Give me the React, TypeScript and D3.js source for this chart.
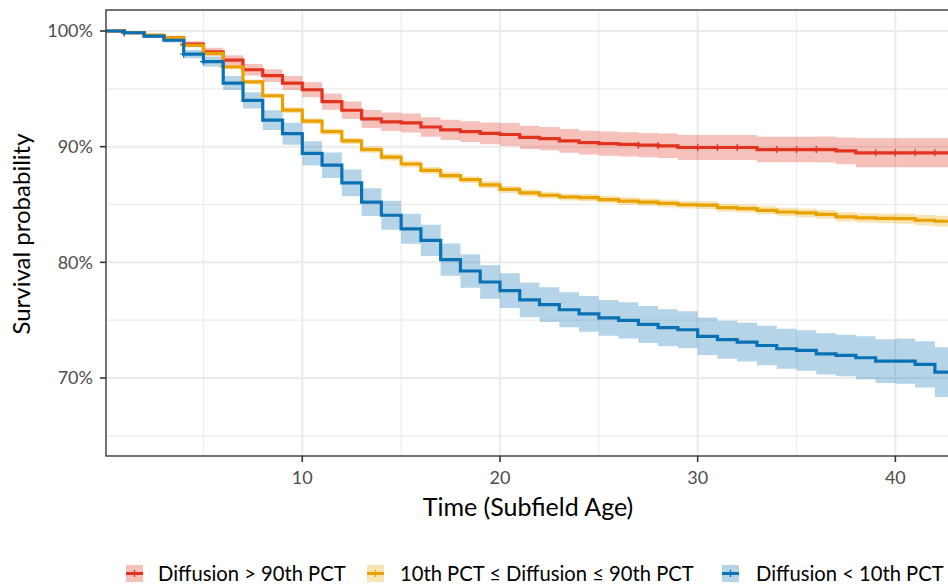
import React from "react";
import * as d3 from "d3";

// ---------- data ----------
const years = d3.range(0, 43); // step start times 0..42
const seriesNames = ["Diffusion > 90th PCT", "10th PCT ≤ Diffusion ≤ 90th PCT", "Diffusion < 10th PCT"];
const seriesColors = ["#E1331F", "#E9A100", "#0A72B4"];

const survHigh = [100, 99.85, 99.6, 99.4, 98.87, 98.2, 97.49, 96.65, 96.15, 95.5, 94.92, 93.9, 93.15, 92.4, 92.15, 92.05, 91.7, 91.45, 91.3, 91.15, 91.05, 90.8, 90.7, 90.5, 90.35, 90.27, 90.2, 90.13, 90.07, 89.93, 89.93, 89.93, 89.93, 89.75, 89.75, 89.75, 89.75, 89.64, 89.47, 89.47, 89.47, 89.47, 89.47];
const survMid = [100, 99.85, 99.65, 99.4, 98.75, 98.06, 96.9, 95.6, 94.4, 93.16, 92.2, 91.3, 90.5, 89.75, 89.1, 88.5, 87.95, 87.5, 87.15, 86.7, 86.3, 86.0, 85.8, 85.65, 85.6, 85.43, 85.3, 85.2, 85.1, 84.98, 84.95, 84.73, 84.65, 84.5, 84.35, 84.27, 84.15, 83.93, 83.84, 83.8, 83.78, 83.64, 83.55];
const survLow = [100, 99.85, 99.55, 99.2, 98.0, 97.35, 95.5, 94.0, 92.3, 91.12, 89.42, 88.4, 86.87, 85.2, 84.07, 82.9, 81.9, 80.23, 79.25, 78.3, 77.55, 76.75, 76.35, 75.9, 75.55, 75.2, 74.98, 74.63, 74.35, 74.17, 73.6, 73.31, 73.1, 72.81, 72.53, 72.38, 72.09, 71.95, 71.75, 71.46, 71.46, 71.17, 70.5];

const ciHigh = [0.05, 0.1, 0.15, 0.2, 0.25, 0.35, 0.42, 0.5, 0.55, 0.6, 0.65, 0.7, 0.75, 0.78, 0.8, 0.82, 0.85, 0.88, 0.9, 0.95, 1.0, 1.0, 1.0, 1.02, 1.03, 1.05, 1.05, 1.05, 1.06, 1.08, 1.08, 1.08, 1.08, 1.1, 1.1, 1.1, 1.12, 1.15, 1.25, 1.25, 1.25, 1.25, 1.25];
const ciMid = [0.03, 0.05, 0.07, 0.1, 0.12, 0.15, 0.17, 0.2, 0.22, 0.24, 0.25, 0.26, 0.27, 0.28, 0.29, 0.3, 0.3, 0.3, 0.3, 0.3, 0.3, 0.3, 0.3, 0.3, 0.31, 0.31, 0.32, 0.32, 0.33, 0.33, 0.34, 0.35, 0.35, 0.36, 0.37, 0.38, 0.38, 0.39, 0.4, 0.42, 0.44, 0.46, 0.48];
const ciLow = [0.05, 0.1, 0.15, 0.2, 0.35, 0.45, 0.6, 0.7, 0.85, 0.95, 1.05, 1.1, 1.15, 1.2, 1.25, 1.3, 1.35, 1.4, 1.45, 1.45, 1.5, 1.5, 1.5, 1.52, 1.55, 1.55, 1.57, 1.6, 1.6, 1.6, 1.62, 1.65, 1.68, 1.7, 1.72, 1.75, 1.78, 1.8, 1.85, 1.9, 1.95, 2.0, 2.15];

const censorHigh = [1, 4, 27, 28, 30, 31, 32, 34, 35, 36, 39, 40, 41, 42];
const censorMid = [1, 4, 5, 6, 7];
const censorLow = [1, 4, 5];

const xTicks = [10, 20, 30, 40];
const xMinor = [5, 15, 25, 35];
const yTicks = [70, 80, 90, 100];
const yMinor = [65, 75, 85, 95];

const xLabel = "Time (Subfield Age)";
const yLabel = "Survival probability";

// ---------- layout ----------
const W = 948, H = 584;
const panel = { left: 106, top: 10, right: 962, bottom: 456 };
const FONT = "Lato, 'Open Sans', sans-serif";

const x = d3.scaleLinear().domain([0, 43.3]).range([104.6, 960.6]);
const y = d3.scaleLinear().domain([70, 100]).range([378, 31]);
const xEnd = x.invert(panel.right + 5);

const series = [
  { name: seriesNames[0], color: seriesColors[0], surv: survHigh, ci: ciHigh, censor: censorHigh },
  { name: seriesNames[1], color: seriesColors[1], surv: survMid, ci: ciMid, censor: censorMid },
  { name: seriesNames[2], color: seriesColors[2], surv: survLow, ci: ciLow, censor: censorLow },
];

type Pt = { t: number; s: number; lo: number; hi: number };

function points(surv: number[], ci: number[]): Pt[] {
  const pts: Pt[] = years.map((t, i) => ({ t, s: surv[i], lo: surv[i] - ci[i], hi: surv[i] + ci[i] }));
  const last = pts[pts.length - 1];
  pts.push({ ...last, t: xEnd });
  return pts;
}

const line = d3.line<Pt>().x((d) => x(d.t)).y((d) => y(d.s)).curve(d3.curveStepAfter);
const area = d3.area<Pt>().x((d) => x(d.t)).y0((d) => y(d.lo)).y1((d) => y(d.hi)).curve(d3.curveStepAfter);

const legendPos = [
  { key: 126, text: 158 },
  { key: 367, text: 400 },
  { key: 722, text: 756 },
];

export default function App() {
  return (
    <svg width={W} height={H} style={{ display: "block", position: "absolute", left: 0, top: 0 }} fontFamily={FONT}>
      <rect width={W} height={H} fill="#fff" />
      <defs>
        <clipPath id="panel">
          <rect x={panel.left} y={panel.top} width={panel.right - panel.left} height={panel.bottom - panel.top} />
        </clipPath>
      </defs>
      {/* grid */}
      <g clipPath="url(#panel)">
        {yMinor.map((v) => (
          <line key={"ym" + v} x1={panel.left} x2={panel.right} y1={y(v)} y2={y(v)} stroke="#EBEBEB" strokeWidth={1.1} />
        ))}
        {xMinor.map((v) => (
          <line key={"xm" + v} y1={panel.top} y2={panel.bottom} x1={x(v)} x2={x(v)} stroke="#EBEBEB" strokeWidth={1.1} />
        ))}
        {yTicks.map((v) => (
          <line key={"y" + v} x1={panel.left} x2={panel.right} y1={y(v)} y2={y(v)} stroke="#EBEBEB" strokeWidth={2} />
        ))}
        {xTicks.map((v) => (
          <line key={"x" + v} y1={panel.top} y2={panel.bottom} x1={x(v)} x2={x(v)} stroke="#EBEBEB" strokeWidth={2} />
        ))}
        {series.map((s) => (
          <path key={"a" + s.name} d={area(points(s.surv, s.ci)) || ""} fill={s.color} fillOpacity={0.3} />
        ))}
        {series.map((s) => (
          <g key={"l" + s.name}>
            <path d={line(points(s.surv, s.ci)) || ""} fill="none" stroke={s.color} strokeWidth={3.2} />
            {s.censor.map((t) => {
              const v = s.surv[Math.min(Math.floor(t), s.surv.length - 1)];
              const cx = x(t), cy = y(v);
              return (
                <g key={t} stroke={s.color} strokeWidth={1.3}>
                  <line x1={cx} x2={cx} y1={cy - 3.5} y2={cy + 3.5} />
                  <line x1={cx - 3.5} x2={cx + 3.5} y1={cy} y2={cy} />
                </g>
              );
            })}
          </g>
        ))}
      </g>
      {/* panel border */}
      <rect x={panel.left} y={panel.top} width={panel.right - panel.left} height={panel.bottom - panel.top} fill="none" stroke="#3a3a3a" strokeWidth={1.4} />
      {/* y axis */}
      {yTicks.map((v) => (
        <g key={"yt" + v}>
          <line x1={panel.left - 6} x2={panel.left} y1={y(v)} y2={y(v)} stroke="#333" strokeWidth={1.6} />
          <text x={panel.left - 13} y={y(v)} dy="0.36em" textAnchor="end" fontSize={18} fill="#4D4D4D">
            {v}%
          </text>
        </g>
      ))}
      {/* x axis */}
      {xTicks.map((v) => (
        <g key={"xt" + v}>
          <line x1={x(v)} x2={x(v)} y1={panel.bottom} y2={panel.bottom + 6} stroke="#333" strokeWidth={1.6} />
          <text x={x(v)} y={484} textAnchor="middle" fontSize={18} fill="#4D4D4D">
            {v}
          </text>
        </g>
      ))}
      <text x={528} y={516} textAnchor="middle" fontSize={25} fill="#000">
        {xLabel}
      </text>
      <text transform={`translate(30, 234) rotate(-90)`} textAnchor="middle" fontSize={24} fill="#000">
        {yLabel}
      </text>
      {/* legend */}
      {series.map((s, i) => (
        <g key={"lg" + s.name}>
          <rect x={legendPos[i].key} y={565} width={17} height={17} fill={s.color} fillOpacity={0.3} />
          <line x1={legendPos[i].key} x2={legendPos[i].key + 17} y1={573.5} y2={573.5} stroke={s.color} strokeWidth={3} />
          <line x1={legendPos[i].key + 8.5} x2={legendPos[i].key + 8.5} y1={570} y2={577} stroke={s.color} strokeWidth={1.3} />
          <text x={legendPos[i].text} y={573.5} dy="0.36em" fontSize={20.2} fill="#000">
            {s.name}
          </text>
        </g>
      ))}
    </svg>
  );
}
